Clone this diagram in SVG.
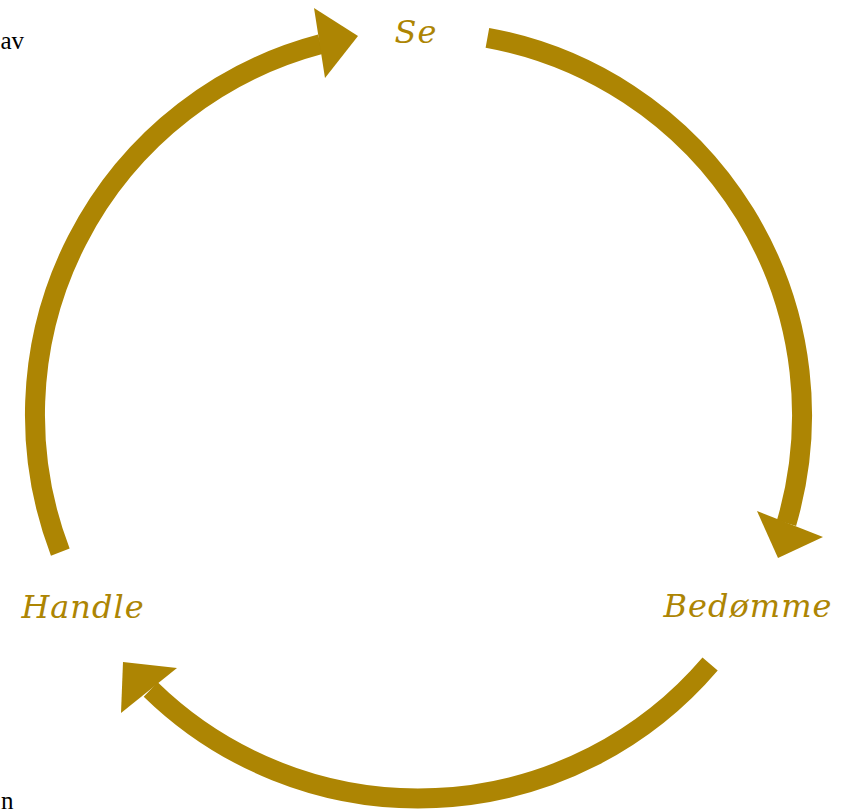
<svg xmlns="http://www.w3.org/2000/svg" width="852" height="810" viewBox="0 0 852 810">
<style>
.arc{fill:none;stroke:#AD8503;stroke-width:20;stroke-linecap:butt}
.head{fill:#AD8503}
.lbl{font-family:"DejaVu Serif",serif;font-style:italic;font-size:32px;letter-spacing:1px;fill:#AD8503}
.frag{font-family:"Liberation Serif",serif;font-size:25px;fill:#000}
</style>
<rect width="852" height="810" fill="#fff"/>
<text class="frag" x="24" y="49" text-anchor="end">av</text>
<text class="frag" x="1" y="809">n</text>
<g id="connectors">
<path class="arc" d="M487.4,37.8 A383.5,383.5 0 0 1 786.5,523.1"/>
<polygon class="head" points="757,511 823,537 778,558"/>
<path class="arc" d="M710.1,664 A383.5,383.5 0 0 1 150.7,689.5"/>
<polygon class="head" points="123,662 177,668 121,713"/>
<path class="arc" d="M60.3,552.1 A383.5,383.5 0 0 1 320.6,44.2"/>
<polygon class="head" points="314,8 358,36 325,78"/>
</g>
<g id="node-se"><text class="lbl" x="416" y="43" text-anchor="middle">Se</text></g>
<g id="node-bedomme"><text class="lbl" x="748" y="617" text-anchor="middle">Bedømme</text></g>
<g id="node-handle"><text class="lbl" x="83" y="618" text-anchor="middle">Handle</text></g>
</svg>
